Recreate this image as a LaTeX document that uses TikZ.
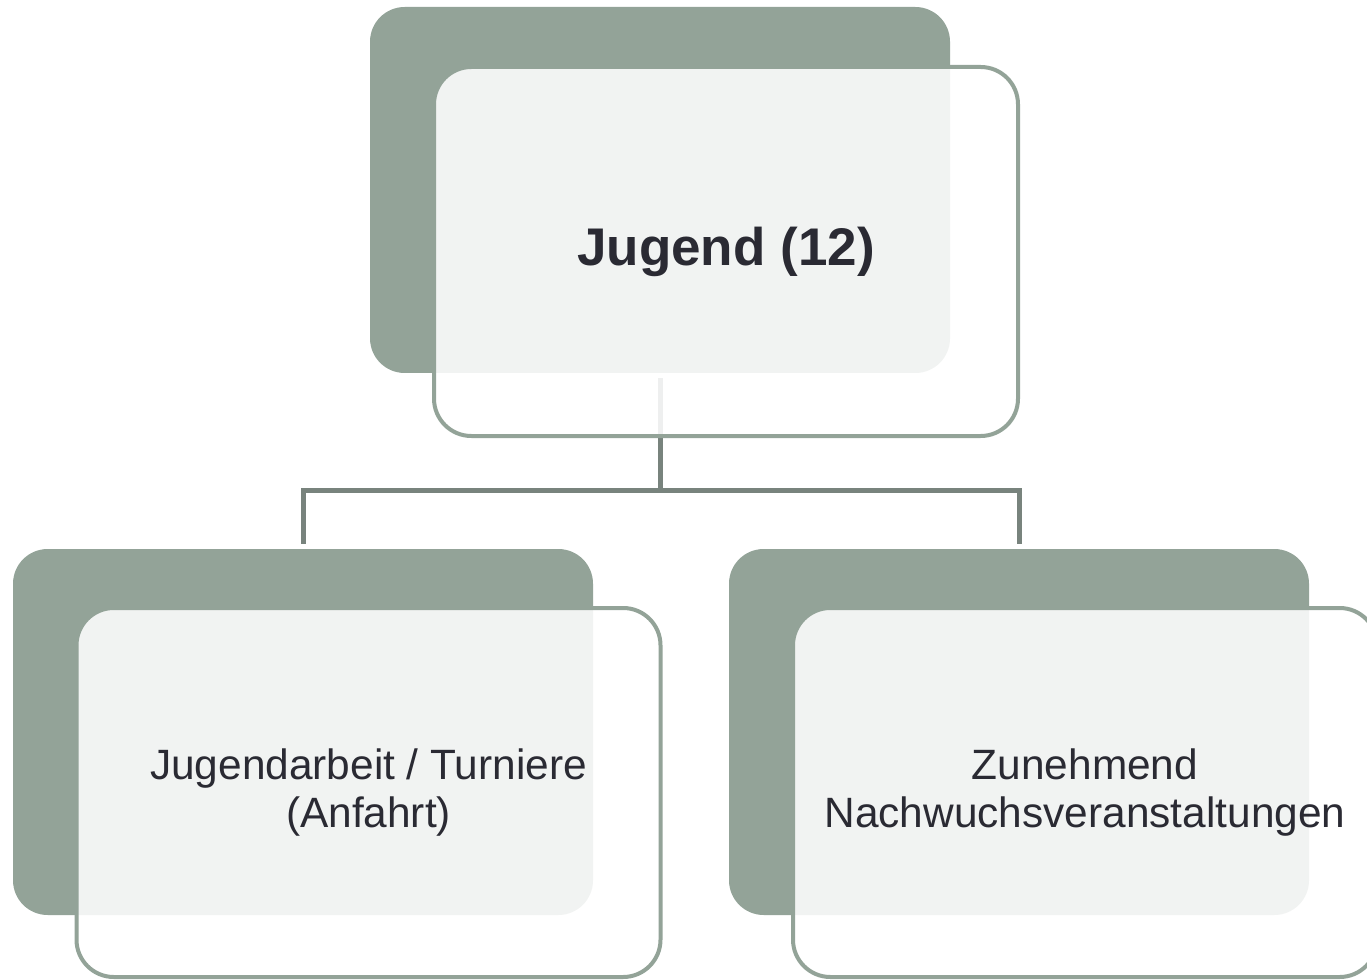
\documentclass[tikz,border=0pt]{standalone}
\usepackage{fontspec}
\setmainfont{Liberation Sans}
\usetikzlibrary{positioning}

\definecolor{boxgreen}{HTML}{93A398}
\definecolor{linkgray}{HTML}{78837D}
\definecolor{labeldark}{HTML}{2A2A33}

\tikzset{
  backbox/.style={fill=boxgreen, rounded corners=26pt, minimum width=435pt,
                  minimum height=274.5pt, inner sep=0pt},
  frontbox/.style={draw=boxgreen, line width=3pt, fill=white, fill opacity=0.88,
                   text opacity=1, rounded corners=28pt, minimum width=438pt,
                   minimum height=276.75pt, inner sep=0pt, align=center,
                   text=labeldark, font=\fontsize{31.8}{36}\selectfont},
  link/.style={draw=linkgray, line width=3.75pt}
}

\begin{document}
\begin{tikzpicture}[x=0.75pt,y=-0.75pt]
\useasboundingbox (0,0) rectangle (1367,980);

% back boxes
\node[backbox] (topback)   at (660,190) {};
\node[backbox] (leftback)  at (303,732) {};
\node[backbox] (rightback) at (1019,732) {};

% links
\coordinate (fork) at ([yshift=-87.75pt]topback.south);
\draw[link] ([yshift=-3.75pt]topback.south) -- (fork);
\draw[link] ([yshift=3.75pt]leftback.north) |- (fork) -| ([yshift=3.75pt]rightback.north);

% front boxes with labels
\node[frontbox, font=\fontsize{39.75}{45}\selectfont\bfseries]
      (topfront)   at ([shift={(66,61.5)}]topback.center) {Jugend (12)};
\node[frontbox] (leftfront)  at ([shift={(65.5,60.5)}]leftback.center)
      {Jugendarbeit / Turniere\\(Anfahrt)};
\node[frontbox] (rightfront) at ([shift={(66,60.5)}]rightback.center)
      {Zunehmend\\Nachwuchsveranstaltungen};

\end{tikzpicture}
\end{document}
